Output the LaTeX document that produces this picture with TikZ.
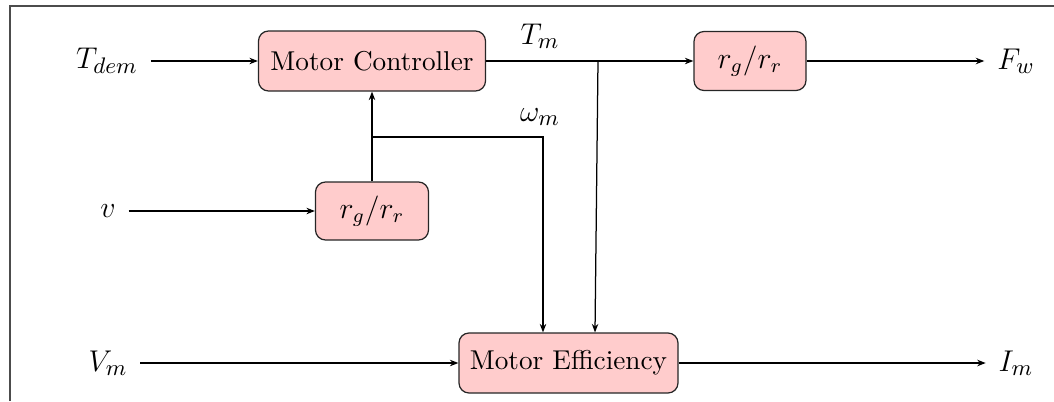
\documentclass[tikz,border=0pt]{standalone}
\usetikzlibrary{arrows.meta,calc}
\begin{document}
\begin{tikzpicture}[x=0.4pt,y=-0.4pt,
  blockbox/.style={draw=black!85, fill=red!20, rounded corners=4pt, line width=0.5pt,
    align=center, inner sep=0pt, font=\fontsize{10.9}{13}\selectfont},
  lbl/.style={inner sep=5pt, font=\fontsize{12.5}{15}\selectfont},
  conn/.style={line width=0.5pt},
  arr/.style={conn, -{Stealth[length=3.4pt,width=2.6pt]}}]
\useasboundingbox (0,0) rectangle (1054,401);
\draw[black!70, line width=0.7pt] (10,401) -- (10,6) -- (1054,6);

\node[blockbox, minimum width=90.8pt, minimum height=24pt] (mc) at (372,61) {Motor Controller};
\node[blockbox, minimum width=44.8pt, minimum height=23.6pt] (rg1) at (750,61) {\fontsize{12}{14}\selectfont$r_g/r_r$};
\node[blockbox, minimum width=45.2pt, minimum height=23.2pt] (rg2) at (372,211) {\fontsize{12}{14}\selectfont$r_g/r_r$};
\node[blockbox, minimum width=87.6pt, minimum height=24pt] (eff) at (568.5,363) {Motor Efficiency};

\node[lbl] (tdem) at (107,61) {$T_{dem}$};
\node[lbl] (v) at (108,211) {$v$};
\node[lbl] (vm) at (108,363) {$V_m$};
\node[lbl] (fw) at (1016,61) {$F_w$};
\node[lbl] (im) at (1016,363) {$I_m$};
\node[lbl, inner sep=0pt] (tm) at (540,36) {$T_m$};
\node[lbl, inner sep=0pt] (wm) at (540,117) {$\omega_m$};

\coordinate (j1) at (598,61);
\coordinate (j2) at (372,137);
\coordinate (c1) at (543,137);
\coordinate (e1) at ($(eff.north)+(-25.5,0)$);
\coordinate (e2) at ($(eff.north)+(26.5,0)$);

\draw[arr] (tdem.east) -- (mc.west);
\draw[conn] (mc.east) -- (j1);
\draw[arr] (j1) -- (rg1.west);
\draw[arr] (rg1.east) -- (fw.west);
\draw[arr] (v.east) -- (rg2.west);
\draw[arr] (rg2.north) -- (mc.south);
\draw[arr] (j2) -- (c1) -- (e1);
\draw[arr] (j1) -- (e2);
\draw[arr] (vm.east) -- (eff.west);
\draw[arr] (eff.east) -- (im.west);
\end{tikzpicture}
\end{document}
